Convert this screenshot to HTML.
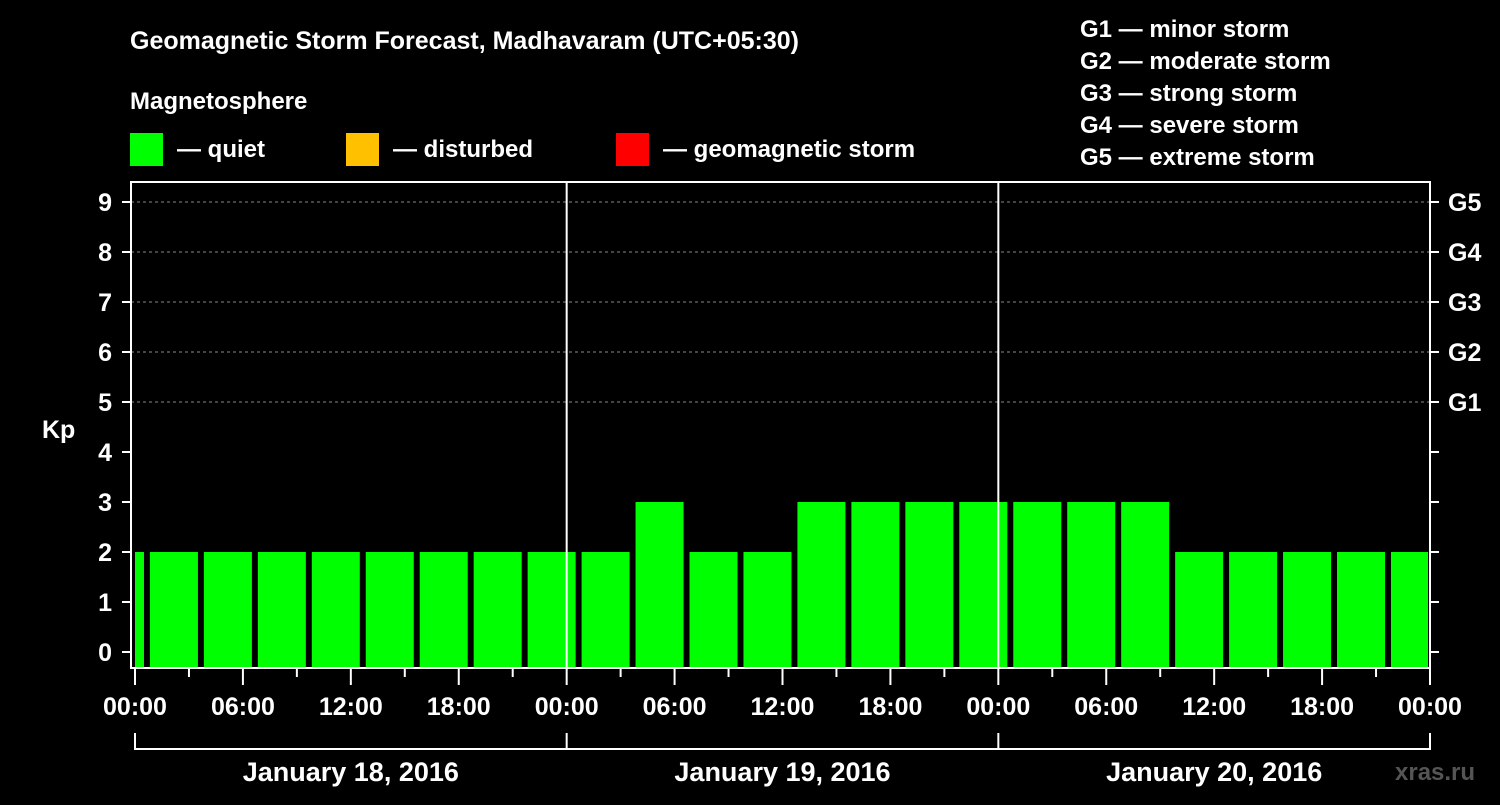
<!DOCTYPE html>
<html><head><meta charset="utf-8">
<style>
body{margin:0;background:#000;width:1500px;height:800px;overflow:hidden;font-family:"Liberation Sans",sans-serif;}
svg text{font-family:"Liberation Sans",sans-serif;font-weight:bold;fill:#fff;}
</style></head>
<body>
<svg width="1500" height="800" xmlns="http://www.w3.org/2000/svg">
<text x="130" y="49" font-size="25">Geomagnetic Storm Forecast, Madhavaram (UTC+05:30)</text>
<text x="130" y="109" font-size="24">Magnetosphere</text>
<g>
<rect x="130" y="133" width="33" height="33" fill="#00ff00"/>
<text x="177" y="157" font-size="24">— quiet</text>
<rect x="346" y="133" width="33" height="33" fill="#ffc000"/>
<text x="393" y="157" font-size="24">— disturbed</text>
<rect x="616" y="133" width="33" height="33" fill="#ff0000"/>
<text x="663" y="157" font-size="24">— geomagnetic storm</text>
</g>
<g font-size="24">
<text x="1080" y="37">G1 — minor storm</text>
<text x="1080" y="69">G2 — moderate storm</text>
<text x="1080" y="101">G3 — strong storm</text>
<text x="1080" y="133">G4 — severe storm</text>
<text x="1080" y="165">G5 — extreme storm</text>
</g>
<g id="plot"></g>
<text x="1395" y="780" font-size="24" fill="#555" style="fill:#555">xras.ru</text>
</svg>
<script>
const kpValues=[2,2,2,2,2,2,2,2,2,2,3,2,2,3,3,3,3,3,3,3,2,2,2,2,2];
const yTicks=[0,1,2,3,4,5,6,7,8,9];
const gLabels=["G1","G2","G3","G4","G5"];
const xLabels=["00:00","06:00","12:00","18:00","00:00","06:00","12:00","18:00","00:00","06:00","12:00","18:00","00:00"];
const dayLabels=["January 18, 2016","January 19, 2016","January 20, 2016"];
const NS="http://www.w3.org/2000/svg";
const g=document.getElementById('plot');
const X0=135,PXH=(1430-135)/72,L=131,R=1430,T=182,B=668;
const xs=h=>X0+h*PXH, ys=k=>652-k*50;
function el(t,a,txt){const e=document.createElementNS(NS,t);for(const k in a)e.setAttribute(k,a[k]);if(txt!==undefined)e.textContent=txt;g.appendChild(e);return e;}
// grid
[5,6,7,8,9].forEach(k=>{const e=el('line',{x1:L,x2:R,y1:ys(k),y2:ys(k),stroke:'#888','stroke-dasharray':'3,3','stroke-width':1});

});
// bars
kpValues.forEach((v,i)=>{let x1=xs(i*3-2.17),x2=x1+48;x1=Math.max(x1,X0);x2=Math.min(x2,R-2);
const e=el('rect',{x:x1,y:ys(v),width:x2-x1,height:B-ys(v),fill:'#00ff00'});

});
// day separators
[24,48].forEach(h=>{const e=el('line',{x1:xs(h),x2:xs(h),y1:T,y2:B,stroke:'#fff','stroke-width':2});

});
// frame
const f=el('rect',{x:L,y:T,width:R-L,height:B-T,fill:'none',stroke:'#fff','stroke-width':2});


// y ticks
yTicks.forEach(k=>{el('line',{x1:L-9,x2:L,y1:ys(k),y2:ys(k),stroke:'#fff','stroke-width':2});
el('line',{x1:R,x2:R+9,y1:ys(k),y2:ys(k),stroke:'#fff','stroke-width':2});
const t=el('text',{x:112,y:ys(k)+9,'font-size':25,'text-anchor':'end'},String(k));

});
gLabels.forEach((s,i)=>{const t=el('text',{x:1448,y:ys(5+i)+9,'font-size':25},s);

});
const yt=el('text',{x:42,y:438,'font-size':25},'Kp');


// x ticks
for(let h=0;h<=72;h+=3){el('line',{x1:xs(h),x2:xs(h),y1:B,y2:h%6==0?685:677,stroke:'#fff','stroke-width':2});}
xLabels.forEach((s,i)=>{const t=el('text',{x:xs(i*6),y:715,'font-size':25,'text-anchor':'middle'},s);

});
// bracket
el('line',{x1:X0,x2:R,y1:749,y2:749,stroke:'#fff','stroke-width':2});
[0,24,48,72].forEach(h=>el('line',{x1:xs(h),x2:xs(h),y1:733,y2:750,stroke:'#fff','stroke-width':2}));
dayLabels.forEach((s,i)=>{const t=el('text',{x:xs(i*24+12),y:781,'font-size':27,'text-anchor':'middle'},s);

});
</script>
</body></html>
